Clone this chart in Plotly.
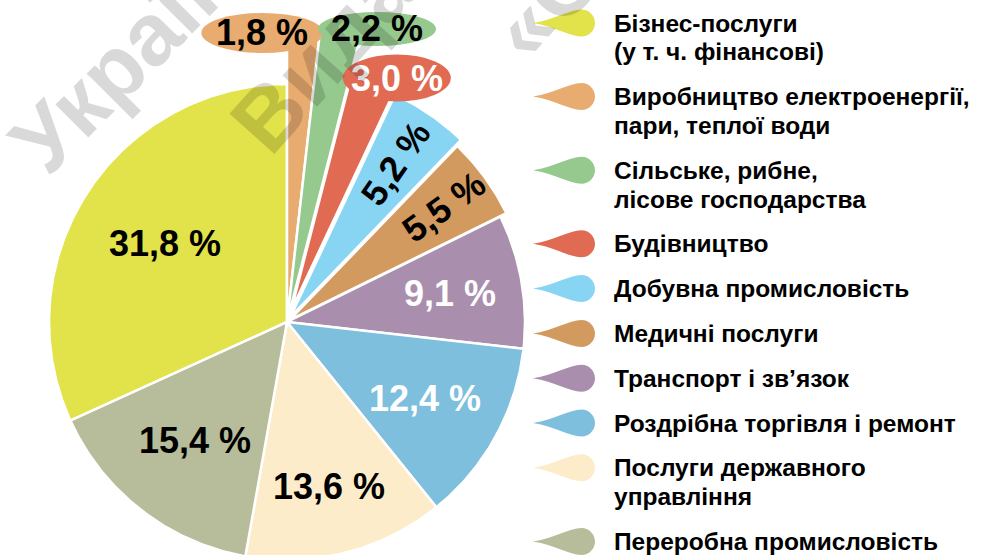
import math
import plotly.graph_objects as go

# Structure of gross value added by economic activity, %
sectors = [
    ["Бізнес-послуги", "(у т. ч. фінансові)"],
    ["Виробництво електроенергії,", "пари, теплої води"],
    ["Сільське, рибне,", "лісове господарства"],
    ["Будівництво"],
    ["Добувна промисловість"],
    ["Медичні послуги"],
    ["Транспорт і зв’язок"],
    ["Роздрібна торгівля і ремонт"],
    ["Послуги державного", "управління"],
    ["Переробна промисловість"],
]
shares = [31.8, 1.8, 2.2, 3.0, 5.2, 5.5, 9.1, 12.4, 13.6, 15.4]
colors = ["#E2E24A", "#E8AC70", "#95C98E", "#E06B52", "#87D5F3",
          "#D39A5F", "#A98EAE", "#7EBFDD", "#FDECCA", "#B7BD9A"]

# ---- drawing styles (canvas units = pixels, y axis pointing up) ----
W, H = 985, 555
CX, CY = 287, H - 322          # pie centre
outer_r = [238, 290, 296, 238, 246, 242, 238, 238, 238, 238]
pull_px = [0, 0, 0, 12, 6, 3, 0, 0, 0, 0]
label_r = [145, 289.5, 298, 247.3, 186, 192, 165, 158, 170, 150]
label_dx = [0, -41, 36, 22, 0, 0, 0, 0, 0, 0]
bubble_rx = [0, 61, 59, 54, 0, 0, 0, 0, 0, 0]
bubble_ry = [0, 20, 17, 23.5, 0, 0, 0, 0, 0, 0]
radial_text = [False, False, False, False, True, True, False, False, False, False]
label_color = ["black", "black", "black", "white", "black",
               "black", "white", "white", "black", "black"]
FONT = "Liberation Sans"


def fmt(v):
    return f"{v:.1f}".replace(".", ",") + " %"


fig = go.Figure()
shapes = []
annotations = []

# slices run clockwise; the first one ends at 12 o'clock
angle = 90 + 3.6 * shares[0]
for i, v in enumerate(shares):
    a0 = angle
    a1 = angle - 3.6 * v
    angle = a1
    mid = math.radians((a0 + a1) / 2)
    ax = CX + pull_px[i] * math.cos(mid)
    ay = CY + pull_px[i] * math.sin(mid)
    n = max(8, int(abs(a0 - a1) * 2))
    xs, ys = [ax], [ay]
    for k in range(n + 1):
        a = math.radians(a0 + (a1 - a0) * k / n)
        xs.append(ax + outer_r[i] * math.cos(a))
        ys.append(ay + outer_r[i] * math.sin(a))
    xs.append(ax)
    ys.append(ay)
    fig.add_trace(go.Scatter(
        x=xs, y=ys, mode="lines", fill="toself", fillcolor=colors[i],
        line=dict(color="white", width=2.5), hoverinfo="skip", showlegend=False,
    ))

    lx = ax + label_r[i] * math.cos(mid) + label_dx[i]
    ly = ay + label_r[i] * math.sin(mid)
    if bubble_rx[i]:
        shapes.append(dict(
            type="circle", xref="x", yref="y",
            x0=lx - bubble_rx[i], x1=lx + bubble_rx[i],
            y0=ly - bubble_ry[i], y1=ly + bubble_ry[i],
            fillcolor=colors[i], line=dict(width=0), layer="above",
        ))
    annotations.append(dict(
        x=lx, y=ly, xref="x", yref="y", text=fmt(v), showarrow=False,
        textangle=-math.degrees(mid) if radial_text[i] else 0,
        font=dict(family=FONT, size=36, color=label_color[i], weight="bold"),
        xanchor="center", yanchor="middle",
    ))

# legend: leaf-shaped swatches with captions
LEAF_X0, LEAF_X1, TEXT_X = 533, 595, 612
LINE_H, GAP = 28.8, 16
row_y = H - 23
for i, lines in enumerate(sectors):
    yc = row_y
    r = 13.5
    w = LEAF_X1 - LEAF_X0
    path = (
        f"M {LEAF_X0},{yc} "
        f"C {LEAF_X0 + 0.35 * w},{yc + 0.12 * 2 * r} {LEAF_X1 - r - 0.2 * w},{yc + r} {LEAF_X1 - r},{yc + r} "
        f"C {LEAF_X1 - 0.45 * r},{yc + r} {LEAF_X1},{yc + 0.55 * r} {LEAF_X1},{yc} "
        f"C {LEAF_X1},{yc - 0.55 * r} {LEAF_X1 - 0.45 * r},{yc - r} {LEAF_X1 - r},{yc - r} "
        f"C {LEAF_X1 - r - 0.2 * w},{yc - r} {LEAF_X0 + 0.35 * w},{yc - 0.12 * 2 * r} {LEAF_X0},{yc} Z"
    )
    shapes.append(dict(type="path", xref="x", yref="y", path=path,
                       fillcolor=colors[i], line=dict(width=0)))
    for j, line in enumerate(lines):
        annotations.append(dict(
            x=TEXT_X, y=yc - j * LINE_H, xref="x", yref="y",
            text=line, showarrow=False, align="left",
            xanchor="left", yanchor="middle",
            font=dict(family=FONT, size=24.5, color="black", weight="bold"),
        ))
    row_y -= len(lines) * LINE_H + GAP

# faint diagonal watermark lettering
wm_font = dict(family=FONT, size=88, color="rgba(0,0,0,0.15)", weight="bold")
for text, px, py, rot in [("Україна", 141, 41, -45),
                          ("Видавництво", 445, -80, -48),
                          ("«Освіта»", 636, -98, -48)]:
    annotations.append(dict(
        x=px / W, y=1 - py / H, xref="paper", yref="paper", text=text,
        showarrow=False, textangle=rot, font=wm_font,
        xanchor="center", yanchor="middle",
    ))

fig.update_layout(
    width=W, height=H, margin=dict(l=0, r=0, t=0, b=0),
    paper_bgcolor="white", plot_bgcolor="white",
    xaxis=dict(range=[0, W], visible=False, fixedrange=True),
    yaxis=dict(range=[0, H], visible=False, fixedrange=True),
    shapes=shapes, annotations=annotations, showlegend=False,
)
fig.write_html("out.html")
